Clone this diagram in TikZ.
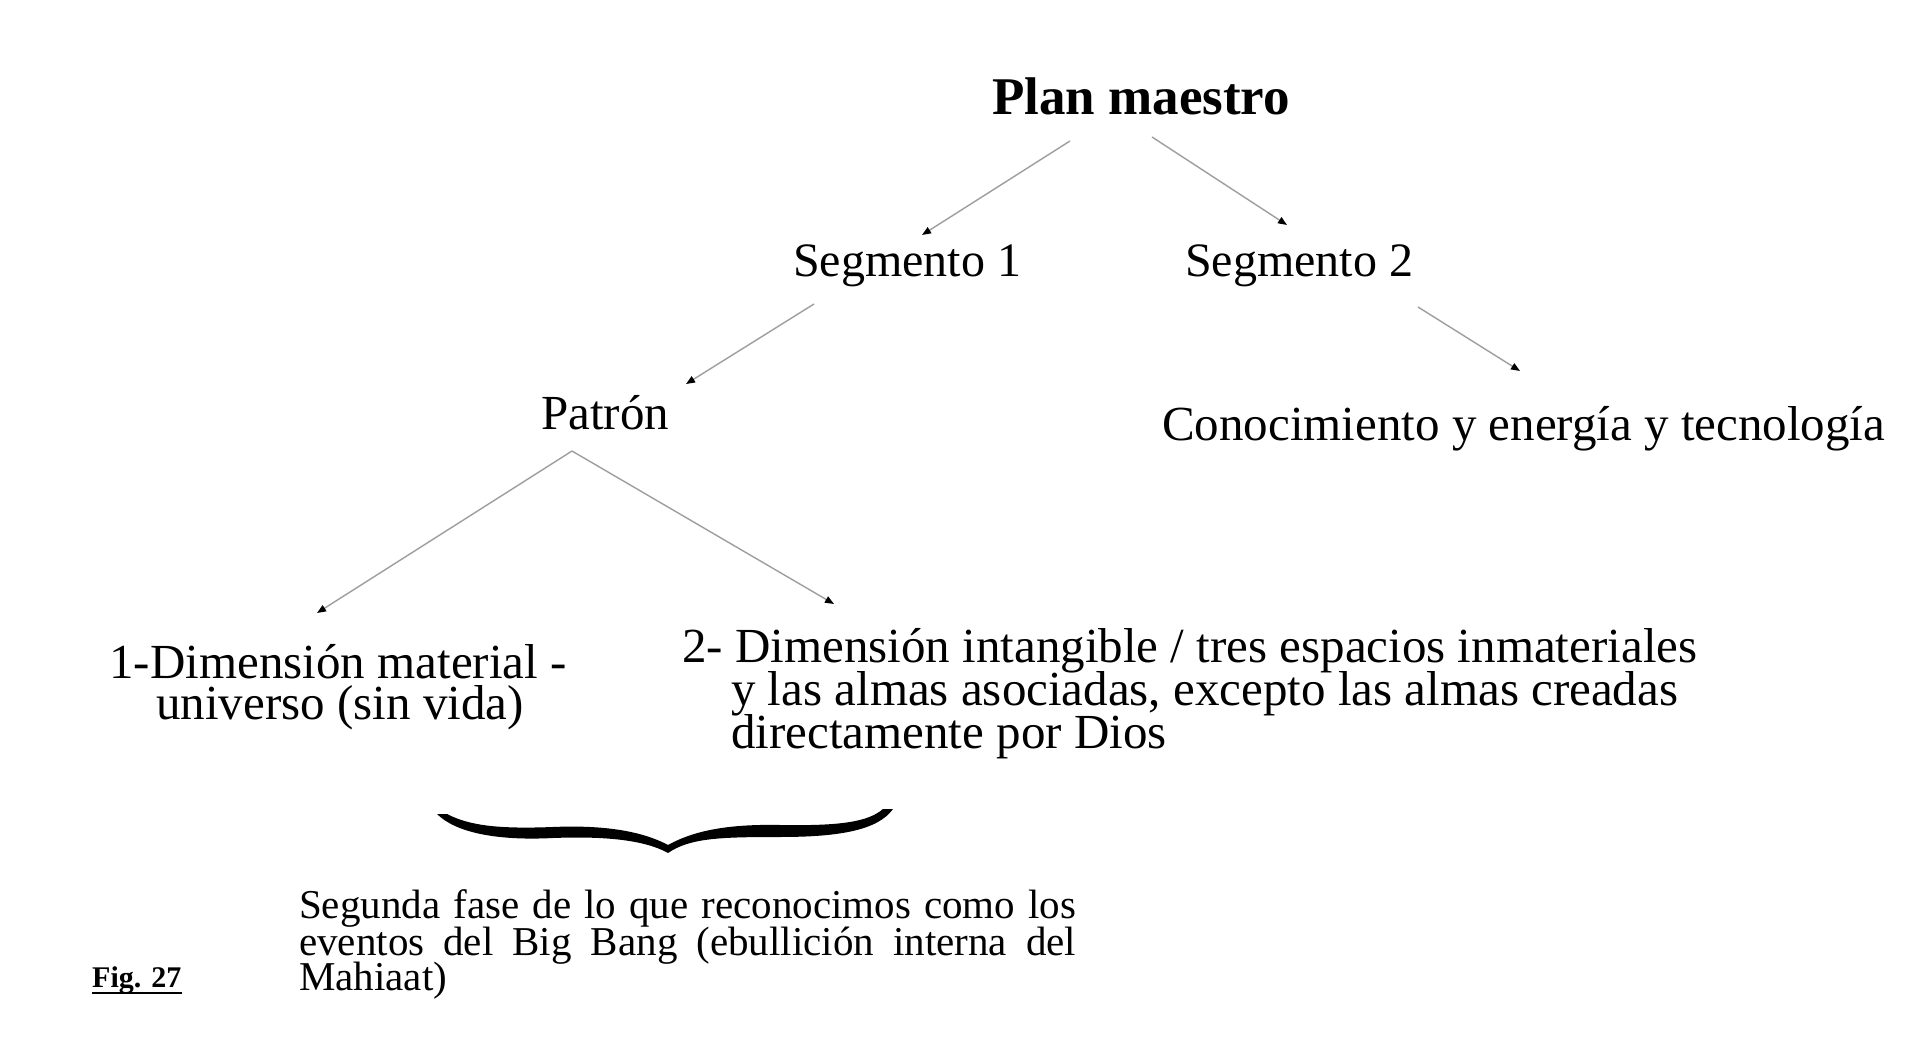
\documentclass[tikz,border=0pt]{standalone}
\usepackage{fontspec}
\setmainfont{Liberation Serif}
\usetikzlibrary{arrows.meta}
\tikzset{
  conn/.style={draw=black!38, line width=1.4pt, -{Triangle[length=9pt,width=7pt,color=black]}},
  lbl/.style={inner sep=0pt, anchor=base west, font=\fontsize{49}{49}\selectfont},
  seglbl/.style={lbl, font=\fontsize{48}{48}\selectfont},
  small/.style={inner sep=0pt, anchor=base west, font=\fontsize{41}{41}\selectfont},
}
\begin{document}
\begin{tikzpicture}[x=1pt,y=-1pt]
\useasboundingbox[fill=white] (0,0) rectangle (1920,1064);

% text nodes
\node[lbl, anchor=base, font=\bfseries\fontsize{53}{53}\selectfont] (plan) at (1141,115) {Plan maestro};
\node[seglbl] (seg1) at (793,277) {Segmento 1};
\node[seglbl] (seg2) at (1185,277) {Segmento 2};
\node[lbl] (patron) at (541,430) {Patrón};
\node[lbl] (con) at (1162,441) {Conocimiento y energía y tecnología};
\node[lbl, anchor=base] (d1a) at (338,678) {1-Dimensión material -};
\node[lbl, anchor=base] (d1b) at (340,719) {universo (sin vida)};
\node[lbl] (d2a) at (682,662) {2- Dimensión intangible / tres espacios inmateriales};
\node[lbl] (d2b) at (731,705) {y las almas asociadas, excepto las almas creadas};
\node[lbl] (d2c) at (731,748) {directamente por Dios};
\node[small] (b1) at (299,918) {\makebox[777pt][s]{Segunda fase de lo que reconocimos como los}};
\node[small] (b2) at (299,955) {\makebox[777pt][s]{eventos del Big Bang (ebullición interna del}};
\node[small] (b3) at (299,990) {Mahiaat)};
\node[inner sep=0pt, anchor=base west, font=\bfseries\fontsize{30}{30}\selectfont] (fig) at (92,987) {Fig. 27};
\draw[line width=1.8pt] ([yshift=-6pt]fig.base west) -- ([yshift=-6pt]fig.base east);

% connector end points
\coordinate (planL) at (1070,141);
\coordinate (planR) at (1152,137);
\coordinate (seg1T) at (922,235);
\coordinate (seg2T) at (1287,225);
\coordinate (seg1B) at (814,304);
\coordinate (patT) at (686,384);
\coordinate (seg2B) at (1418,307);
\coordinate (conT) at (1520,371);
\coordinate (patB) at (572,451);
\coordinate (d1T) at (317,613);
\coordinate (d2T) at (834,604);

\draw[conn] (planL) -- (seg1T);
\draw[conn] (planR) -- (seg2T);
\draw[conn] (seg1B) -- (patT);
\draw[conn] (seg2B) -- (conT);
\draw[conn] (patB) -- (d1T);
\draw[conn] (patB) -- (d2T);

% brace
\fill[black] (447,814) .. controls (470,826) and (500,829) .. (553,827)
  .. controls (600,825) and (640,830) .. (668,845)
  .. controls (695,830) and (730,824) .. (780,825)
  .. controls (840,826) and (868,822) .. (883,809)
  -- (893,809)
  .. controls (878,830) and (840,837) .. (780,837)
  .. controls (720,837) and (690,838) .. (668,853)
  .. controls (645,840) and (605,836) .. (553,838)
  .. controls (495,841) and (455,832) .. (437,814) -- cycle;
\end{tikzpicture}
\end{document}
